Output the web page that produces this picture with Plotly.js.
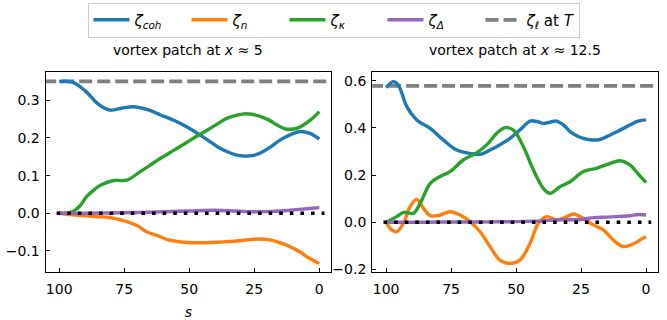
<!DOCTYPE html>
<html>
<head>
<meta charset="utf-8">
<script src="https://cdn.plot.ly/plotly-3.0.1.min.js"></script>
<style>html,body{margin:0;padding:0;background:#fff;}#chart{width:667px;height:320px;}</style>
</head>
<body>
<div id="chart"></div>
<script>
// ---- Left panel: vortex patch at x ≈ 5 ----
const sL_coh = [100, 95, 90, 85, 80.5, 76, 71.5, 66, 61, 56, 51, 47, 43, 39, 35.6, 32, 29, 26, 23, 19, 15, 11, 7.4, 3.6, 0];
const zL_coh = [0.350, 0.348, 0.325, 0.290, 0.274, 0.279, 0.283, 0.275, 0.261, 0.247, 0.230, 0.213, 0.195, 0.176, 0.164, 0.155, 0.152, 0.153, 0.159, 0.175, 0.195, 0.209, 0.217, 0.212, 0.197];
const sL_n = [100, 95, 90.8, 85, 80.5, 74, 70, 66.4, 62, 58.7, 53, 48.5, 44, 39.5, 35, 30.5, 27, 23, 19.5, 16.4, 13, 10, 7, 4.9, 2, 0];
const zL_n = [0.0, -0.004, -0.006, -0.009, -0.011, -0.022, -0.033, -0.049, -0.060, -0.069, -0.076, -0.078, -0.078, -0.077, -0.075, -0.073, -0.070, -0.068, -0.070, -0.075, -0.083, -0.093, -0.104, -0.115, -0.126, -0.133];
const sL_k = [100, 95, 92, 89.5, 86.5, 84, 79, 74, 69, 65, 61, 56, 51, 47, 43, 39, 35.6, 32, 29, 26, 23, 19.5, 16.4, 13.5, 11.3, 8.5, 6, 3, 0];
const zL_k = [0.0, 0.004, 0.020, 0.044, 0.063, 0.075, 0.087, 0.088, 0.110, 0.128, 0.146, 0.167, 0.188, 0.205, 0.221, 0.238, 0.252, 0.260, 0.264, 0.263, 0.258, 0.248, 0.235, 0.225, 0.223, 0.226, 0.235, 0.250, 0.270];
const sL_d = [100, 90, 80, 70, 60, 50, 40, 32, 25, 18, 10, 5, 0];
const zL_d = [0.0, 0.000, 0.001, 0.002, 0.004, 0.006, 0.008, 0.006, 0.004, 0.005, 0.009, 0.012, 0.015];

// ---- Right panel: vortex patch at x ≈ 12.5 ----
const sR_coh = [100, 97.2, 95.3, 92, 88.2, 83, 78, 72.8, 67.7, 63.8, 60, 56, 52.3, 48.5, 44.6, 42, 39.5, 37, 34.4, 31.5, 29.2, 26.5, 24.1, 21.5, 19, 16.5, 13.8, 11, 8.7, 6, 3.6, 0];
const zR_coh = [0.571, 0.596, 0.582, 0.490, 0.434, 0.398, 0.349, 0.306, 0.292, 0.288, 0.306, 0.330, 0.356, 0.391, 0.429, 0.427, 0.419, 0.424, 0.429, 0.410, 0.384, 0.366, 0.356, 0.350, 0.349, 0.356, 0.370, 0.385, 0.398, 0.413, 0.427, 0.434];
const sR_n = [100, 97.8, 95.9, 93.3, 90.8, 88.2, 85.6, 83, 79.2, 75.4, 71.5, 67.7, 63.8, 60, 56.2, 52.3, 48.5, 44.6, 41.4, 38.2, 34.4, 30.5, 28, 24.1, 20.3, 16.4, 12.6, 8.7, 4.9, 2, 0];
const zR_n = [0.0, -0.032, -0.040, -0.004, 0.066, 0.097, 0.059, 0.028, 0.031, 0.045, 0.031, 0.003, -0.040, -0.103, -0.160, -0.174, -0.160, -0.089, -0.004, 0.024, 0.010, 0.024, 0.035, 0.017, -0.011, -0.032, -0.075, -0.103, -0.092, -0.073, -0.061];
const sR_k = [100, 95.9, 93.3, 89.5, 86.9, 83, 79.2, 75.4, 70.3, 65.1, 61.3, 57.4, 54.2, 51, 47.2, 43.3, 39.5, 36.9, 33.1, 29.2, 24.1, 19, 13.8, 10, 6.2, 3, 0];
const zR_k = [0.0, 0.024, 0.042, 0.038, 0.080, 0.165, 0.194, 0.215, 0.264, 0.295, 0.328, 0.377, 0.401, 0.391, 0.321, 0.222, 0.144, 0.123, 0.151, 0.172, 0.215, 0.229, 0.250, 0.261, 0.243, 0.205, 0.168];
const sR_d = [100, 90, 80, 70, 60, 50, 40, 35, 30, 25, 20, 15, 10, 6, 3, 0];
const zR_d = [0.0, 0.000, 0.001, 0.001, 0.002, 0.003, 0.006, 0.010, 0.011, 0.012, 0.020, 0.022, 0.025, 0.028, 0.033, 0.031];

// reference levels ζℓ at T and zero line
const zetaLT = [0.350, 0.578];
const zeroLineS = [101, -2];
const fullS = [120, -20];

const tickS = [0, 25, 50, 75, 100];
const tickYL = [-0.1, 0.0, 0.1, 0.2, 0.3];
const tickYR = [-0.2, 0.0, 0.2, 0.4, 0.6];

const titles = ['vortex patch at <i>x</i> ≈ 5', 'vortex patch at <i>x</i> ≈ 12.5'];
const names = ['<i>ζ<sub>coh</sub></i>', '<i>ζ<sub>n</sub></i>', '<i>ζ<sub>κ</sub></i>', '<i>ζ<sub>Δ</sub></i>', '<i>ζ<sub>ℓ</sub></i> at <i>T</i>'];
const colors = ['#1f77b4', '#ff7f0e', '#2ca02c', '#9467bd', '#7f7f7f'];

const LW = 3.4;
function curve(x, y, i, ax, show) {
  return {x: x, y: y, type: 'scatter', mode: 'lines', name: names[i], showlegend: show,
    xaxis: ax[0], yaxis: ax[1], line: {color: colors[i], width: LW, shape: 'spline', smoothing: 1}};
}
const panels = [
  {ax: ['x', 'y'], data: [[sL_coh, zL_coh], [sL_n, zL_n], [sL_k, zL_k], [sL_d, zL_d]], lt: zetaLT[0]},
  {ax: ['x2', 'y2'], data: [[sR_coh, zR_coh], [sR_n, zR_n], [sR_k, zR_k], [sR_d, zR_d]], lt: zetaLT[1]}
];
const traces = [];
panels.forEach((p, pi) => {
  const show = pi === 0;
  traces.push({x: fullS, y: [p.lt, p.lt], type: 'scatter', mode: 'lines', name: names[4], showlegend: false,
    xaxis: p.ax[0], yaxis: p.ax[1], line: {color: colors[4], width: 3.8, dash: '13px,5px'}});
  p.data.forEach((d, i) => traces.push(curve(d[0], d[1], i, p.ax, show)));
  traces.push({x: zeroLineS, y: [0, 0], type: 'scatter', mode: 'lines', showlegend: false, hoverinfo: 'skip',
    xaxis: p.ax[0], yaxis: p.ax[1], line: {color: '#000', width: 3.6, dash: '3.6px,7px'}});
});
// legend entry for the dashed line (placed last in legend)
traces.push({x: [null], y: [null], type: 'scatter', mode: 'lines', name: names[4], showlegend: true,
  xaxis: 'x', yaxis: 'y', line: {color: colors[4], width: 3.8, dash: '13px,5px'}});

const font = {family: 'DejaVu Sans, sans-serif', size: 14, color: '#000'};
const axBase = {showline: true, mirror: true, linecolor: '#000', linewidth: 1.2, ticks: 'inside', ticklen: 4,
  tickcolor: '#000', showgrid: false, zeroline: false, tickfont: font};
const yTop = 1 - 72.3 / 320, yBot = 1 - 271.7 / 320;
const layout = {
  width: 667, height: 320, margin: {l: 0, r: 0, t: 0, b: 0}, paper_bgcolor: '#fff', plot_bgcolor: '#fff',
  font: font, showlegend: true,
  legend: {orientation: 'h', x: 0.5, xanchor: 'center', y: 0.992, yanchor: 'top', bordercolor: '#cccccc', borderwidth: 1,
    font: {family: 'DejaVu Sans, sans-serif', size: 15, color: '#000'}, entrywidth: 47, entrywidthmode: 'pixels', itemwidth: 36},
  xaxis: Object.assign({}, axBase, {domain: [45.7 / 667, 331 / 667], range: [105.2, -4.5], tickvals: tickS,
    ticklabelstandoff: 4, title: {text: '<i>s</i>', font: font, standoff: 15}, anchor: 'y'}),
  yaxis: Object.assign({}, axBase, {domain: [yBot, yTop], range: [-0.155, 0.3743], tickvals: tickYL, tickformat: '.1f',
    ticklabelstandoff: 2, anchor: 'x'}),
  xaxis2: Object.assign({}, axBase, {domain: [372.3 / 667, 657.7 / 667], range: [105.3, -4.5], tickvals: tickS,
    ticklabelstandoff: 4, anchor: 'y2'}),
  yaxis2: Object.assign({}, axBase, {domain: [yBot, yTop], range: [-0.2093, 0.6356], tickvals: tickYR, tickformat: '.1f',
    ticklabelstandoff: 2, anchor: 'x2'}),
  annotations: titles.map((t, i) => ({text: t, xref: 'paper', yref: 'paper', showarrow: false,
    x: i === 0 ? 188.4 / 667 : 515 / 667, y: 1 - 50 / 320, xanchor: 'center', yanchor: 'middle', font: font}))
};
Plotly.newPlot('chart', traces, layout, {displayModeBar: false, staticPlot: true});
</script>
</body>
</html>
